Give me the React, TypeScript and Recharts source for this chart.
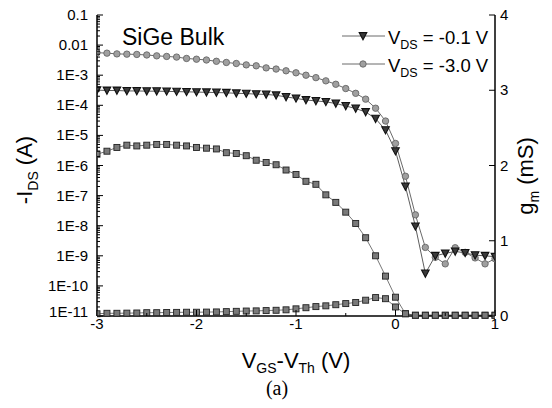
import { ComposedChart, Line, XAxis, YAxis } from 'recharts';

// gate voltage overdrive, V
const vgs = [
  -3.0, -2.9, -2.8, -2.7, -2.6, -2.5, -2.4, -2.3, -2.2, -2.1, -2.0, -1.9, -1.8, -1.7,
  -1.6, -1.5, -1.4, -1.3, -1.2, -1.1, -1.0, -0.9, -0.8, -0.7, -0.6, -0.5, -0.4, -0.3,
  -0.2, -0.1, 0.0, 0.1, 0.2, 0.3, 0.4, 0.5, 0.6, 0.7, 0.8, 0.9, 1.0,
];

// -IDS (A) at VDS = -0.1 V
const ids01 = [
  3.2e-4, 3.1e-4, 3.1e-4, 3.0e-4, 3.0e-4, 2.95e-4, 2.95e-4, 2.9e-4, 2.85e-4, 2.8e-4,
  2.75e-4, 2.7e-4, 2.65e-4, 2.6e-4, 2.5e-4, 2.45e-4, 2.35e-4, 2.3e-4, 2.15e-4, 1.9e-4,
  1.7e-4, 1.5e-4, 1.4e-4, 1.3e-4, 1.15e-4, 9.5e-5, 7.8e-5, 6.0e-5, 3.6e-5, 1.5e-5,
  3.0e-6, 2.0e-7, 9.5e-9, 2.6e-10, 1.0e-9, 1.2e-9, 1.4e-9, 1.25e-9, 1.05e-9, 1.0e-9, 9.3e-10,
];

// -IDS (A) at VDS = -3.0 V
const ids30 = [
  5.6e-3, 5.4e-3, 5.1e-3, 5.0e-3, 4.9e-3, 4.7e-3, 4.4e-3, 4.2e-3, 4.0e-3, 3.6e-3,
  3.4e-3, 3.2e-3, 2.9e-3, 2.65e-3, 2.45e-3, 2.2e-3, 2.05e-3, 1.75e-3, 1.6e-3, 1.4e-3,
  1.2e-3, 1.0e-3, 8.3e-4, 6.5e-4, 5.0e-4, 3.6e-4, 2.5e-4, 1.6e-4, 8.0e-5, 3.0e-5,
  5.4e-6, 4.4e-7, 2.3e-8, 1.9e-9, 8.9e-10, 5.4e-10, 1.85e-9, 1.3e-9, 8.5e-10, 5.4e-10, 8.0e-10,
];

// gm (mS) at VDS = -3.0 V
const gm30 = [
  2.15, 2.19, 2.24, 2.27, 2.26, 2.27, 2.28, 2.28, 2.27, 2.26, 2.24, 2.23, 2.22, 2.17,
  2.16, 2.13, 2.07, 2.04, 2.01, 1.94, 1.88, 1.79, 1.75, 1.61, 1.51, 1.38, 1.23, 1.04,
  0.8, 0.53, 0.25, 0.03, 0.01, 0.01, 0.01, 0.01, 0.01, 0.01, 0.01, 0.01, 0.01,
];

// gm (mS) at VDS = -0.1 V
const gm01 = [
  0.03, 0.036, 0.036, 0.038, 0.04, 0.044, 0.044, 0.046, 0.048, 0.05, 0.05, 0.052, 0.054,
  0.058, 0.062, 0.066, 0.068, 0.072, 0.076, 0.082, 0.095, 0.11, 0.125, 0.135, 0.15,
  0.165, 0.18, 0.21, 0.245, 0.23, 0.12, 0.03, 0.01, 0.01, 0.01, 0.01, 0.01, 0.01, 0.01, 0.01, 0.01,
];

const xTicks = [-3, -2.5, -2, -1.5, -1, -0.5, 0, 0.5, 1];
const leftTickValues = [1e-11, 1e-10, 1e-9, 1e-8, 1e-7, 1e-6, 1e-5, 1e-4, 1e-3, 0.01, 0.1];
const leftTickLabels = ['1E-11', '1E-10', '1E-9', '1E-8', '1E-7', '1E-6', '1E-5', '1E-4', '1E-3', '0.01', '0.1'];
const rightTicks = [0, 1, 2, 3, 4];

const rows = vgs.map((v, i) => ({ v, ids01: ids01[i], ids30: ids30[i], gm30: gm30[i], gm01: gm01[i] }));

// log axis gets minor ticks 2..9 in each decade
const leftTicks: number[] = [];
leftTickValues.forEach((d, i) => {
  leftTicks.push(d);
  if (i < leftTickValues.length - 1) for (let m = 2; m <= 9; m++) leftTicks.push(m * d);
});

const FONT = '"Liberation Sans", Arial, sans-serif';

const LeftTick = (p: any) => {
  const v = p.payload.value;
  const idx = leftTickValues.findIndex((d) => Math.abs(Math.log10(v) - Math.log10(d)) < 1e-6);
  const major = idx >= 0;
  return (
    <g>
      <line x1={p.x} x2={p.x + (major ? 6 : 3)} y1={p.y} y2={p.y} stroke="#000" strokeWidth={1} />
      {major && (
        <text x={p.x - 9} y={p.y + (idx === 0 ? 1 : 5)} textAnchor="end" fontSize={15} fontFamily={FONT} fill="#000">
          {leftTickLabels[idx]}
        </text>
      )}
    </g>
  );
};

const RightTick = (p: any) => (
  <g>
    <line x1={p.x} x2={p.x - 6} y1={p.y} y2={p.y} stroke="#000" strokeWidth={1} />
    <text x={p.x + 5} y={p.y + 5} fontSize={15} fontFamily={FONT} fill="#000">
      {p.payload.value}
    </text>
  </g>
);

const XTick = (p: any) => {
  const v = p.payload.value;
  const major = Number.isInteger(v);
  return (
    <g>
      <line x1={p.x} x2={p.x} y1={p.y} y2={p.y - (major ? 6 : 3)} stroke="#000" strokeWidth={1} />
      {major && (
        <text x={p.x} y={p.y + 13} textAnchor="middle" fontSize={15} fontFamily={FONT} fill="#000">
          {v}
        </text>
      )}
    </g>
  );
};

const triPath = (cx: number, cy: number) => `M${cx - 3.8},${cy - 3.4} L${cx + 3.8},${cy - 3.4} L${cx},${cy + 3.8} Z`;

const TriDot = (p: any) => (
  <path key={`t${p.index}`} d={triPath(p.cx, p.cy)} fill="#3a3a3a" stroke="#111" strokeWidth={1.1} />
);
const CircDot = (p: any) => (
  <circle key={`c${p.index}`} cx={p.cx} cy={p.cy} r={3.2} fill="#a0a0a0" stroke="#666" strokeWidth={0.9} />
);
const SqDot = (p: any) => (
  <rect key={`s${p.index}`} x={p.cx - 3} y={p.cy - 3} width={6} height={6} fill="#7a7a7a" stroke="#222" strokeWidth={0.9} />
);

export default function App() {
  return (
    <div style={{ position: 'absolute', left: 0, top: 0, width: 552, height: 408, background: '#fff' }}>
      <ComposedChart width={552} height={408} data={rows} margin={{ top: 15, right: 17, left: 37, bottom: 62 }}>
        <XAxis
          dataKey="v"
          type="number"
          domain={[-3, 1]}
          ticks={xTicks}
          interval={0}
          allowDataOverflow
          tick={(p: any) => <XTick {...p} />}
          tickLine={false}
          tickSize={0}
          tickMargin={0}
          height={30}
          axisLine={{ stroke: '#000', strokeWidth: 1.5 }}
        />
        <XAxis
          xAxisId="top"
          orientation="top"
          type="number"
          domain={[-3, 1]}
          tick={false}
          tickLine={false}
          height={0}
          axisLine={{ stroke: '#000', strokeWidth: 1.5 }}
        />
        <YAxis
          yAxisId="I"
          scale="log"
          type="number"
          domain={[1e-11, 0.1]}
          allowDataOverflow
          ticks={leftTicks}
          interval={0}
          tick={(p: any) => <LeftTick {...p} />}
          tickLine={false}
          tickSize={0}
          tickMargin={0}
          width={60}
          axisLine={{ stroke: '#000', strokeWidth: 1.5 }}
        />
        <YAxis
          yAxisId="gm"
          orientation="right"
          type="number"
          domain={[0, 4]}
          ticks={rightTicks}
          interval={0}
          tick={(p: any) => <RightTick {...p} />}
          tickLine={false}
          tickSize={0}
          tickMargin={0}
          width={40}
          axisLine={{ stroke: '#000', strokeWidth: 1.5 }}
        />
        <Line yAxisId="gm" dataKey="gm30" type="linear" stroke="#555" strokeWidth={0.8} dot={SqDot} isAnimationActive={false} />
        <Line yAxisId="gm" dataKey="gm01" type="linear" stroke="#555" strokeWidth={0.8} dot={SqDot} isAnimationActive={false} />
        <Line yAxisId="I" dataKey="ids30" type="linear" stroke="#444" strokeWidth={0.8} dot={CircDot} isAnimationActive={false} />
        <Line yAxisId="I" dataKey="ids01" type="linear" stroke="#333" strokeWidth={0.8} dot={TriDot} isAnimationActive={false} />
      </ComposedChart>
      <svg width={552} height={408} style={{ position: 'absolute', left: 0, top: 0, pointerEvents: 'none' }}>
        <text x={122} y={45} fontSize={23} fontFamily={FONT} fill="#000">SiGe Bulk</text>

        <line x1={342} x2={385} y1={36} y2={36} stroke="#444" strokeWidth={0.8} />
        <path d={triPath(363, 36)} fill="#3a3a3a" stroke="#111" strokeWidth={1.1} />
        <text x={388} y={44} fontSize={18.5} fontFamily={FONT} fill="#000">
          V<tspan fontSize={12.5} dy={5}>DS</tspan>
          <tspan dy={-5}> = -0.1 V</tspan>
        </text>
        <line x1={342} x2={385} y1={64} y2={64} stroke="#444" strokeWidth={0.8} />
        <circle cx={363} cy={64} r={3.2} fill="#a0a0a0" stroke="#666" strokeWidth={0.9} />
        <text x={388} y={72} fontSize={18.5} fontFamily={FONT} fill="#000">
          V<tspan fontSize={12.5} dy={5}>DS</tspan>
          <tspan dy={-5}> = -3.0 V</tspan>
        </text>

        <text transform="translate(32,170) rotate(-90)" textAnchor="middle" fontSize={22} fontFamily={FONT} fill="#000">
          -I<tspan fontSize={14} dy={6}>DS</tspan>
          <tspan dy={-6}> (A)</tspan>
        </text>
        <text transform="translate(533,176) rotate(-90)" textAnchor="middle" fontSize={22} fontFamily={FONT} fill="#000">
          g<tspan fontSize={14} dy={6}>m</tspan>
          <tspan dy={-6}> (mS)</tspan>
        </text>
        <text x={296} y={368} textAnchor="middle" fontSize={22} fontFamily={FONT} fill="#000">
          V<tspan fontSize={14} dy={5}>GS</tspan>
          <tspan dy={-5}>-V</tspan>
          <tspan fontSize={14} dy={5}>Th</tspan>
          <tspan dy={-5}> (V)</tspan>
        </text>
        <text x={277} y={395} textAnchor="middle" fontSize={20} fontFamily='"Liberation Serif", "Times New Roman", serif' fill="#000">
          (a)
        </text>
      </svg>
    </div>
  );
}
